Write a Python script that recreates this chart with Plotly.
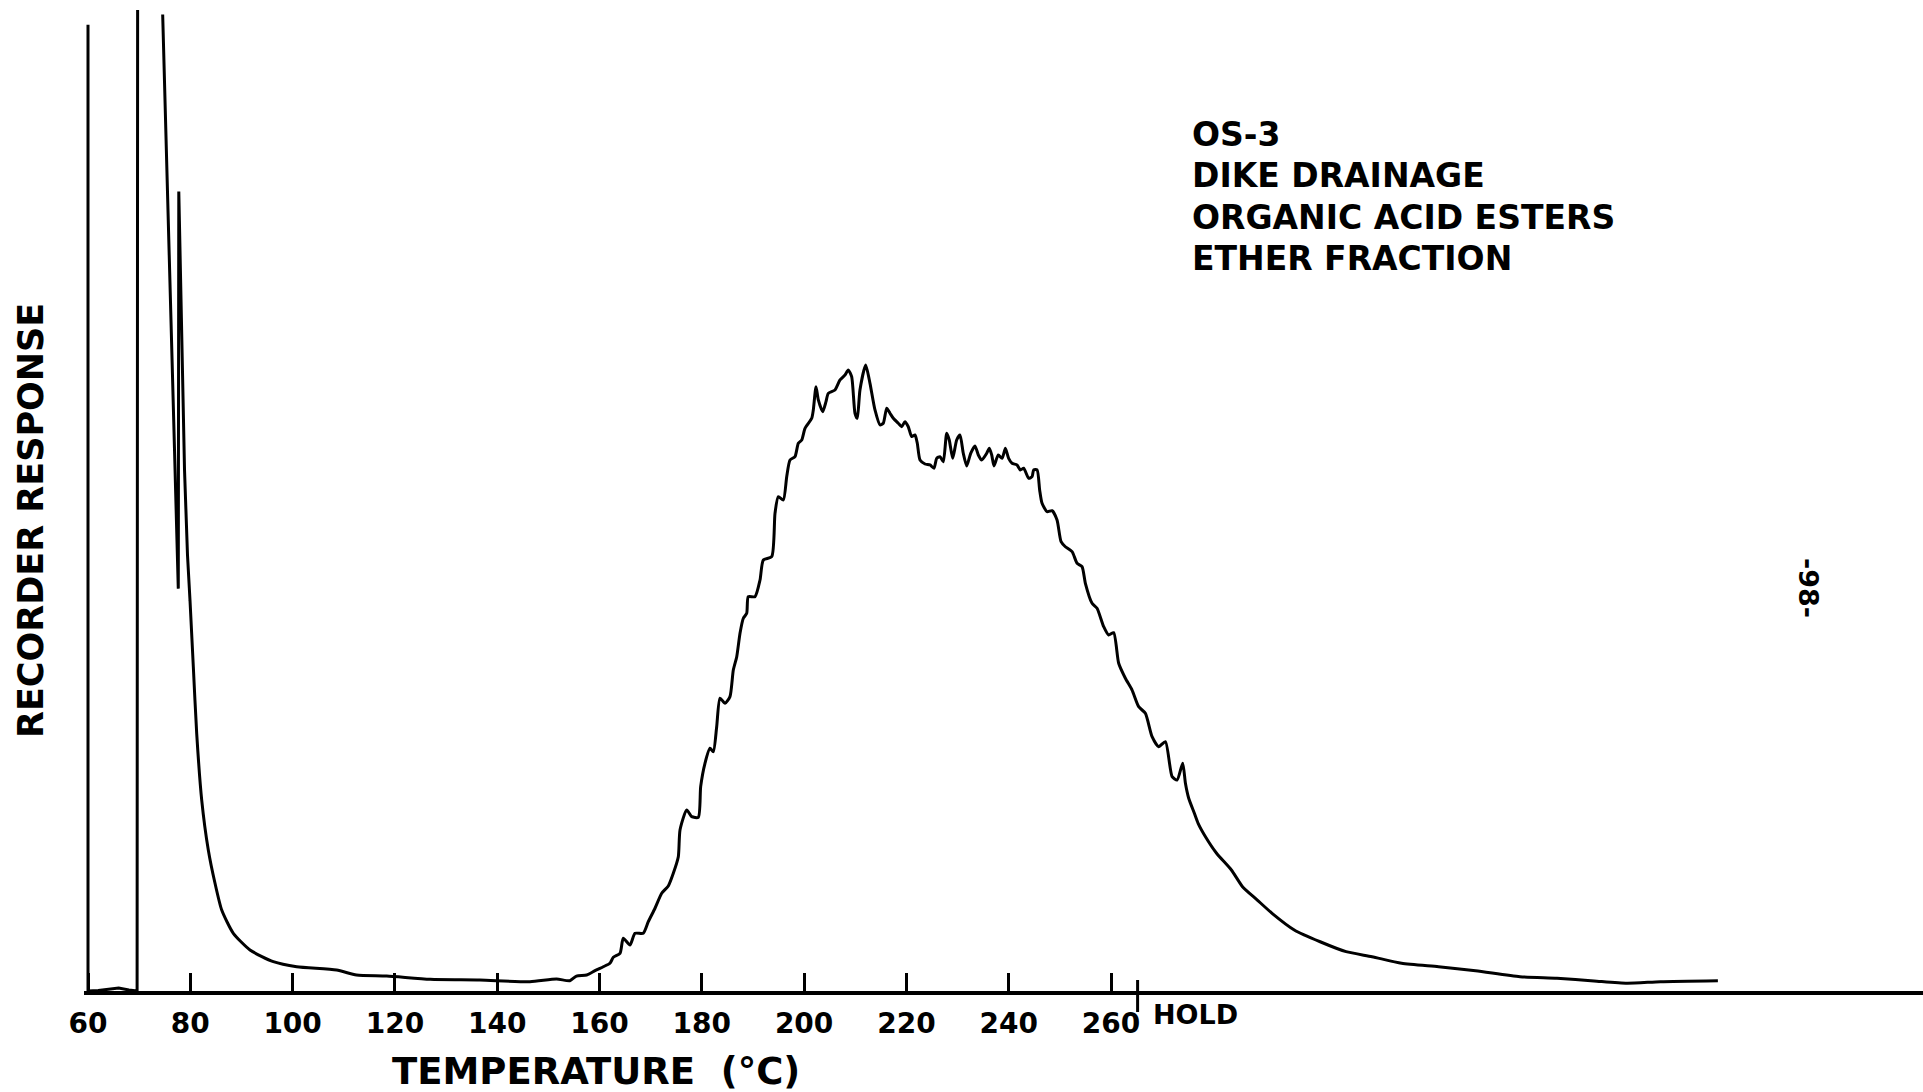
import plotly.graph_objects as go

# ---- data (temperature in deg C, recorder response in % of full scale) ----
START_T = [60, 60, 62, 64, 66, 68, 69.6, 69.7]
START_R = [97.5, 0, 0.05, 0.15, 0.3, 0.1, 0, 99.0]

SOLVENT_T = [74.60, 77.65, 77.75, 78.28, 78.87, 79.45, 79.94]
SOLVENT_R = [98.54, 40.60, 80.68, 65.69, 52.58, 44.00, 39.45]

TRACE_T = [79.94, 80.59, 81.25, 82.23, 83.52, 84.83, 86.14,
           88.41, 91.67, 96.23, 100.8, 108.6, 112.5, 118.4, 126.9, 136.6, 146.4, 151.6, 154.2,
           155.5, 157.5, 159.12, 160.74, 162.05, 162.70, 164.01, 164.65, 165.96, 166.94, 168.56,
           169.54, 170.85, 172.16, 173.45, 174.43, 175.41, 175.74, 177.05, 178.03, 179.32, 179.78,
           180.62, 181.60, 182.25, 182.91, 183.56, 184.54, 185.51, 186.16, 186.83, 187.47, 188.12,
           188.78, 189.09, 190.40, 191.38, 192.03, 193.67, 194.31, 194.96, 195.94, 196.60, 197.25,
           198.22, 198.87, 199.54, 200.18, 201.49, 201.80, 202.33, 202.78, 203.64, 204.28, 204.73,
           206.04, 207.02, 207.99, 208.64, 209.30, 209.95, 210.40, 210.92, 212.04, 212.88, 213.86,
           214.84, 215.48, 216.15, 216.79, 217.44, 218.41, 219.08, 219.72, 220.37, 221.03, 221.68,
           222.13, 222.66, 223.64, 224.61, 225.39, 225.92, 226.57, 227.21, 227.88, 228.38, 229.05,
           229.83, 230.48, 231.12, 231.79, 232.57, 233.41, 234.06, 234.72, 235.70, 236.21, 236.68,
           237.12, 237.96, 238.70, 239.35, 239.99, 240.66, 241.63, 242.28, 242.93, 243.90, 244.57,
           244.88, 245.55, 246.05, 246.52, 247.50, 248.48, 249.45, 250.24, 251.08, 252.39, 253.37,
           254.34, 254.99, 256.30, 257.27, 258.57, 259.54, 260.52, 261.50, 262.81, 264.12, 265.41,
           266.72, 268.03, 269.32, 270.63, 271.95, 272.93, 274.02, 274.55, 275.19, 276.30, 277.03,
           278.47, 280.64, 283.54, 285.71, 288.60, 291.49, 295.83, 300.89, 305.96, 311.02, 316.81,
           324.04, 331.28, 339.96, 347.19, 354.42, 360.91, 367.42, 378.65]
TRACE_R = [39.45, 32.72, 26.0, 19.27, 14.23, 10.87, 8.17,
           5.82, 4.14, 2.96, 2.45, 2.12, 1.61, 1.51, 1.18, 1.11, 0.94, 1.21, 1.04,
           1.51, 1.61, 2.05, 2.45, 2.80, 3.40, 3.80, 5.32, 4.64, 5.82, 5.82,
           6.99, 8.35, 9.86, 10.60, 11.88, 13.55, 16.25, 18.27, 17.59, 17.53, 20.62,
           22.98, 24.49, 24.15, 26.67, 29.54, 29.03, 29.70, 32.39, 33.73, 36.10, 37.61,
           38.11, 39.79, 39.79, 41.47, 43.49, 43.83, 48.20, 49.88, 49.55, 51.90, 53.58,
           53.92, 55.27, 55.60, 56.78, 57.79, 58.63, 60.98, 59.64, 58.46, 59.47, 60.31,
           60.65, 61.66, 62.16, 62.67, 61.99, 58.30, 57.79, 60.65, 63.17, 61.32, 58.63,
           57.12, 57.29, 58.80, 58.30, 57.79, 57.29, 56.94, 57.45, 56.94, 55.94, 56.11,
           55.27, 53.58, 53.18, 53.08, 52.75, 53.75, 53.92, 53.41, 56.28, 55.60, 53.75,
           55.60, 56.11, 54.26, 52.98, 54.26, 55.00, 54.09, 53.58, 54.26, 54.76, 54.09,
           52.98, 54.09, 53.75, 54.76, 53.75, 53.25, 53.08, 52.58, 52.75, 51.74, 51.90,
           52.58, 52.58, 50.56, 49.21, 48.37, 48.47, 47.53, 45.34, 44.83, 44.33, 43.16,
           42.82, 41.14, 39.12, 38.62, 36.76, 35.92, 36.16, 33.07, 31.56, 30.37, 28.69,
           28.02, 25.66, 24.65, 25.16, 21.63, 21.29, 22.98, 20.96, 19.45, 17.93, 16.92,
           15.57, 13.90, 12.21, 10.53, 9.18, 7.84, 6.16, 4.97, 3.97, 3.46, 2.80,
           2.45, 2.05, 1.44, 1.28, 1.01, 0.78, 0.94, 1.04]

TICK_T = [60, 80, 100, 120, 140, 160, 180, 200, 220, 240, 260]
TICK_LABELS = [str(t) for t in TICK_T]
HOLD_T = 265.2
HOLD_LABEL = "HOLD"

TITLE_LINES = ["OS-3", "DIKE DRAINAGE", "ORGANIC ACID ESTERS", "ETHER FRACTION"]
PAGE_NUMBER = "-98-"

# ---- geometry ----
W, H = 1923, 1092
ML, MR, MT, MB = 84, 0, 0, 101
PX_PER_DEG = 5.115
X0 = 60 - (88 - ML) / PX_PER_DEG
X1 = X0 + (W - ML - MR) / PX_PER_DEG
PLOT_H = H - MT - MB
FONT = "DejaVu Sans"


def px_to_paper_y(py):
    return (H - MB - py) / PLOT_H


def px_to_paper_x(px):
    return (px - ML) / (W - ML - MR)


fig = go.Figure()
line_style = dict(color="black", width=3)
fig.add_trace(go.Scatter(x=START_T, y=START_R, mode="lines", line=line_style,
                         hoverinfo="skip", showlegend=False))
fig.add_trace(go.Scatter(x=SOLVENT_T, y=SOLVENT_R, mode="lines", line=line_style,
                         hoverinfo="skip", showlegend=False))
fig.add_trace(go.Scatter(x=TRACE_T, y=TRACE_R, mode="lines",
                         line=dict(color="black", width=3, shape="spline", smoothing=0.6),
                         hoverinfo="skip", showlegend=False))

fig.add_shape(type="line", xref="x", yref="paper", x0=HOLD_T, x1=HOLD_T,
              y0=px_to_paper_y(980), y1=px_to_paper_y(1012),
              line=dict(color="black", width=3))

bold = lambda s: "<b>" + s + "</b>"
annotations = []
annotations.append(dict(xref="x", yref="paper", x=HOLD_T, y=px_to_paper_y(1014),
                        xanchor="left", yanchor="middle", xshift=13, showarrow=False,
                        text=bold(HOLD_LABEL), font=dict(family=FONT, size=27, color="black")))
annotations.append(dict(xref="paper", yref="paper", x=px_to_paper_x(596), y=px_to_paper_y(1071),
                        xanchor="center", yanchor="middle", showarrow=False,
                        text=bold("TEMPERATURE  (°C)"), font=dict(family=FONT, size=37, color="black")))
annotations.append(dict(xref="paper", yref="paper", x=px_to_paper_x(31), y=px_to_paper_y(521),
                        xanchor="center", yanchor="middle", showarrow=False, textangle=-90,
                        text=bold("RECORDER RESPONSE"), font=dict(family=FONT, size=35, color="black")))
for i, line in enumerate(TITLE_LINES):
    annotations.append(dict(xref="paper", yref="paper", x=px_to_paper_x(1190),
                            y=px_to_paper_y(134 + 41.5 * i), xanchor="left", yanchor="middle",
                            showarrow=False, text=bold(line),
                            font=dict(family=FONT, size=33, color="black")))
annotations.append(dict(xref="paper", yref="paper", x=px_to_paper_x(1809), y=px_to_paper_y(588),
                        xanchor="center", yanchor="middle", showarrow=False, textangle=90,
                        text=bold(PAGE_NUMBER), font=dict(family=FONT, size=27, color="black")))

fig.update_layout(
    width=W, height=H,
    margin=dict(l=ML, r=MR, t=MT, b=MB, pad=0),
    paper_bgcolor="white", plot_bgcolor="white",
    annotations=annotations,
    xaxis=dict(range=[X0, X1], showgrid=False, zeroline=False,
               showline=True, linecolor="black", linewidth=4,
               ticks="inside", ticklen=18, tickwidth=3, tickcolor="black",
               tickvals=TICK_T, ticktext=[bold(t) for t in TICK_LABELS],
               ticklabelstandoff=4,
               tickfont=dict(family=FONT, size=28, color="black")),
    yaxis=dict(range=[0, 100], showgrid=False, zeroline=False, showline=False,
               showticklabels=False, ticks=""),
)

fig.write_html("out.html", config={"displayModeBar": False},
               post_script="document.body.style.margin='0';document.body.style.overflow='hidden';")
